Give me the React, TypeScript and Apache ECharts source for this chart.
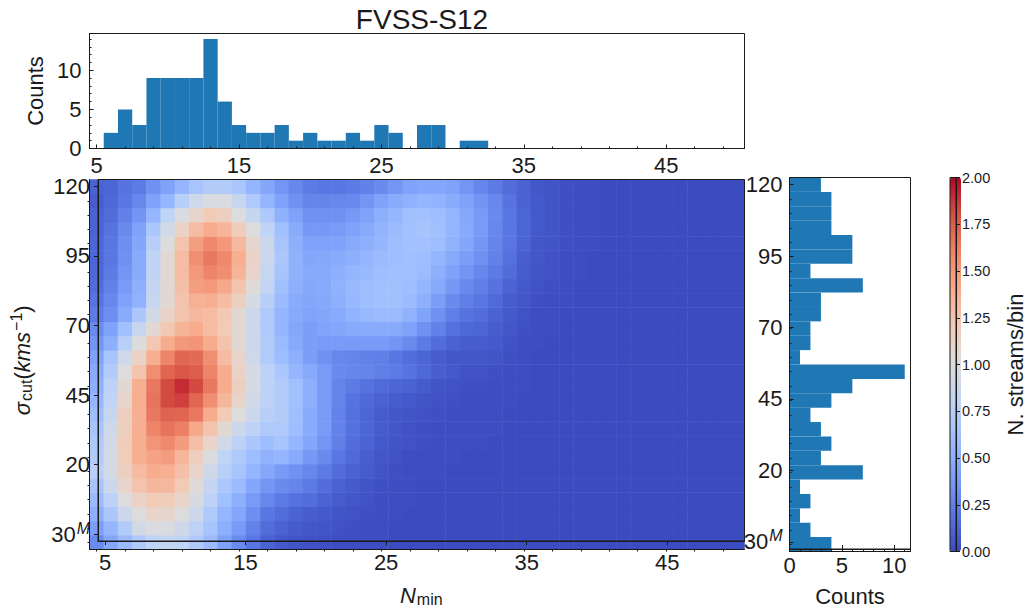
import { useEffect, useRef } from 'react';
import * as echarts from 'echarts';

const FONT = 'Liberation Sans';
const INK = '#1a1a1a';

// x categories: N_min from 5 to 50
const nMinValues = ['5','6','7','8','9','10','11','12','13','14','15','16','17','18','19','20','21','22','23','24','25','26','27','28','29','30','31','32','33','34','35','36','37','38','39','40','41','42','43','44','45','46','47','48','49','50'];
// y categories, bottom to top
const sigmaValues = ['30M','0','5','10','15','20','25','30','35','40','45','50','55','60','65','70','75','80','85','90','95','100','105','110','115','120'];

// top histogram, one count per N_min bin
const nMinCounts = [0,2,5,3,9,9,9,9,14,6,3,2,2,3,1,2,1,1,2,1,3,2,0,3,3,0,1,1,0,0,0,0,0,0,0,0,0,0,0,0,0,0,0,0,0,0];
// right histogram, one count per sigma bin, bottom to top
const sigmaCounts = [4,2,1,2,1,7,3,4,3,2,4,6,11,1,2,2,3,3,7,2,6,6,4,4,4,3];

// N. streams/bin, first row is the bottom one
const density = [
  [.30,.45,.58,.70,.80,.83,.80,.70,.58,.42,.30,.20,.10,.06, .04,.03,.02,.01,.01,.01,.01,0,0,0,0,0,0,0, 0,0,0,0,0,0, 0,0,0,0,0,0,0,0,0,0,0,0],
  [.40,.55,.72,.92,.97,.97,.90,.78,.65,.50,.38,.25,.15,.10, .07,.05,.04,.03,.02,.01,.01,0,0,0,0,0,0,0, 0,0,0,0,0,0, 0,0,0,0,0,0,0,0,0,0,0,0],
  [.50,.68,.88,1.0,1.10,1.08,1.0,.88,.70,.55,.45,.32,.20,.15, .10,.08,.06,.04,.03,.02,.01,.01,0,0,0,0,0,0, 0,0,0,0,0,0, 0,0,0,0,0,0,0,0,0,0,0,0],
  [.58,.78,1.0,1.12,1.20,1.18,1.10,.95,.78,.62,.50,.38,.28,.22, .17,.16,.11,.07,.05,.03,.01,.01,.01,0,0,0,0,0, 0,0,0,0,0,0, 0,0,0,0,0,0,0,0,0,0,0,0],
  [.65,.88,1.10,1.25,1.33,1.32,1.20,1.02,.82,.68,.58,.45,.35,.30, .27,.22,.16,.10,.07,.04,.02,.01,.01,0,0,0,0,0, 0,0,0,0,0,0, 0,0,0,0,0,0,0,0,0,0,0,0],
  [.75,.93,1.15,1.30,1.40,1.38,1.27,1.10,.90,.75,.65,.55,.45,.38, .33,.28,.22,.15,.10,.07,.04,.02,.01,.01,.01,0,0,0, 0,0,0,0,0,0, 0,0,0,0,0,0,0,0,0,0,0,0],
  [.72,.93,1.17,1.38,1.45,1.48,1.33,1.15,.98,.80,.70,.60,.52,.55, .47,.37,.30,.20,.14,.09,.05,.03,.01,.01,.01,.01,0,0, 0,0,0,0,0,0, 0,0,0,0,0,0,0,0,0,0,0,0],
  [.70,.92,1.18,1.38,1.52,1.58,1.48,1.28,1.10,.92,.78,.68,.60,.65, .55,.45,.35,.24,.16,.11,.06,.04,.03,.02,.01,.01,.01,.01, 0,0,0,0,0,0, 0,0,0,0,0,0,0,0,0,0,0,0],
  [.65,.90,1.15,1.38,1.60,1.67,1.62,1.42,1.25,1.05,.88,.78,.70,.70, .60,.48,.38,.26,.17,.12,.07,.05,.03,.02,.01,.01,.01,.01, .01,0,0,0,0,0, 0,0,0,0,0,0,0,0,0,0,0,0],
  [.60,.85,1.15,1.38,1.65,1.73,1.72,1.65,1.40,1.20,1.0,.88,.75,.72, .60,.48,.38,.26,.17,.12,.07,.05,.04,.03,.02,.01,.01,.01, .01,0,0,0,0,0, 0,0,0,0,0,0,0,0,0,0,0,0],
  [.55,.80,1.10,1.38,1.67,1.82,1.85,1.72,1.55,1.33,1.10,.92,.78,.72, .62,.50,.38,.27,.18,.14,.10,.08,.06,.04,.03,.02,.01,.01, .01,.01,0,0,0,0, 0,0,0,0,0,0,0,0,0,0,0,0],
  [.50,.78,1.05,1.38,1.65,1.82,1.90,1.82,1.65,1.40,1.15,.95,.78,.72, .62,.50,.38,.27,.22,.18,.14,.12,.10,.07,.04,.03,.02,.02, .01,.01,.01,0,0,0, 0,0,0,0,0,0,0,0,0,0,0,0],
  [.48,.72,1.0,1.25,1.55,1.72,1.78,1.75,1.60,1.40,1.12,.95,.78,.68, .55,.47,.38,.30,.28,.27,.24,.22,.18,.13,.09,.06,.03,.03, .02,.01,.01,0,0,0, 0,0,0,0,0,0,0,0,0,0,0,0],
  [.42,.65,.90,1.12,1.38,1.60,1.72,1.70,1.55,1.30,1.10,.90,.72,.60, .50,.40,.33,.28,.27,.25,.24,.20,.16,.12,.08,.05,.05,.05, .04,.02,.01,0,0,0, 0,0,0,0,0,0,0,0,0,0,0,0],
  [.35,.50,.75,1.0,1.22,1.40,1.50,1.52,1.40,1.25,1.05,.88,.72,.58, .47,.40,.38,.38,.38,.38,.38,.35,.30,.22,.15,.10,.08,.08, .06,.03,.01,.01,0,0, 0,0,0,0,0,0,0,0,0,0,0,0],
  [.30,.42,.62,.85,1.05,1.22,1.35,1.40,1.30,1.20,1.05,.88,.70,.55, .45,.40,.43,.45,.47,.48,.48,.47,.42,.33,.25,.17,.13,.12, .08,.05,.02,.01,.01,0, 0,0,0,0,0,0,0,0,0,0,0,0],
  [.22,.32,.48,.68,.92,1.12,1.25,1.32,1.30,1.22,1.05,.88,.70,.55, .47,.43,.45,.48,.53,.57,.58,.58,.52,.43,.33,.24,.18,.16, .10,.06,.03,.01,.01,0, 0,0,0,0,0,0,0,0,0,0,0,0],
  [.18,.28,.42,.52,.85,1.05,1.25,1.37,1.38,1.30,1.15,.95,.75,.58, .48,.45,.46,.50,.56,.60,.62,.62,.58,.50,.40,.30,.24,.20, .14,.08,.05,.02,.01,.01, 0,0,0,0,0,0,0,0,0,0,0,0],
  [.15,.25,.38,.50,.82,1.05,1.28,1.47,1.50,1.42,1.25,1.02,.82,.62, .50,.46,.47,.52,.57,.60,.62,.62,.60,.55,.47,.37,.29,.24, .18,.11,.06,.03,.02,.01, 0,0,0,0,0,0,0,0,0,0,0,0],
  [.13,.22,.35,.48,.80,1.05,1.30,1.50,1.60,1.55,1.35,1.10,.85,.65, .52,.47,.47,.50,.55,.57,.60,.62,.62,.58,.50,.42,.35,.28, .22,.15,.08,.04,.03,.01, .01,0,0,0,0,0,0,0,0,0,0,0],
  [.12,.20,.33,.48,.80,1.05,1.30,1.55,1.65,1.58,1.38,1.12,.88,.68, .52,.45,.46,.48,.50,.55,.58,.60,.62,.60,.55,.47,.40,.33, .25,.17,.09,.05,.03,.01, .01,0,0,0,0,0,0,0,0,0,0,0],
  [.12,.20,.32,.45,.75,1.0,1.25,1.47,1.58,1.50,1.32,1.08,.88,.65, .50,.42,.42,.42,.47,.50,.55,.60,.63,.63,.60,.52,.45,.36, .27,.19,.11,.05,.04,.02, .01,.01,0,0,0,0,0,0,0,0,0,0],
  [.10,.18,.30,.42,.68,.92,1.12,1.30,1.40,1.35,1.18,1.0,.80,.62, .48,.37,.37,.38,.42,.47,.53,.58,.63,.65,.62,.55,.47,.38, .28,.20,.12,.06,.04,.02, .01,.01,0,0,0,0,0,0,0,0,0,0],
  [.10,.15,.25,.35,.55,.80,.97,1.10,1.20,1.15,1.0,.85,.70,.52, .42,.33,.33,.33,.37,.42,.50,.55,.62,.63,.60,.55,.46,.38, .30,.20,.12,.06,.04,.02, .01,.01,0,0,0,0,0,0,0,0,0,0],
  [.08,.13,.20,.28,.42,.55,.75,.90,.97,.97,.85,.70,.55,.42, .33,.27,.27,.28,.29,.35,.42,.48,.52,.55,.53,.48,.42,.35, .28,.18,.10,.06,.04,.02, .01,.01,0,0,0,0,0,0,0,0,0,0],
  [.10,.12,.18,.22,.33,.42,.55,.65,.72,.72,.67,.55,.45,.35, .28,.22,.20,.20,.22,.25,.30,.35,.42,.45,.45,.42,.35,.28, .22,.15,.10,.05,.04,.02, .01,.01,0,0,0,0,0,0,0,0,0,0],
];

const coolwarm = ['#3b4cc0','#5977e3','#7b9ff9','#9ebeff','#c0d4f5','#dddcdc','#f2cbb7','#f7ac8e','#ee8468','#d65244','#b40426'];

const heatData = density.flatMap((row, y) => row.map((v, x) => [x, y, v]));

// plot rectangles in page pixels
const mainRect = { left: 89.5, top: 179.5, width: 655, height: 370 };
const topRect = { left: 89.5, top: 33.5, width: 655, height: 115 };
const sideRect = { left: 789.5, top: 177.5, width: 121, height: 374 };
const barRect = { left: 950, top: 177.5, width: 11, height: 374 };

const everyNth = (n: number) => (i: number) => i % n === 0;

const labelRich = {
  mark: { fontFamily: FONT, fontSize: 22, color: INK },
  sup: { fontFamily: FONT, fontSize: 16, fontStyle: 'italic', color: INK, padding: [0, 0, 12, 1] },
};
const sigmaLabel = (value: string) => (value === '30M' ? '{mark|30}{sup|M}' : value);

const line = { show: true, lineStyle: { color: INK, width: 1 } };
const tickStyle = { color: INK, width: 1 };
const noLabel = { show: false };

// category axis carrying only the short ticks
const minorCat = (data: string[], n: number, inside: boolean, gridIndex: number) => ({
  type: 'category', data, gridIndex, z: 5,
  axisLine: line,
  axisTick: { show: true, alignWithLabel: true, interval: everyNth(n), length: 2, inside, lineStyle: tickStyle },
  axisLabel: noLabel,
  splitLine: { show: false },
});

// category axis carrying the long ticks and the labels
const majorCat = (data: string[], n: number, inside: boolean, gridIndex: number, margin: number, extra: object = {}) => ({
  type: 'category', data, gridIndex, z: 5,
  axisLine: line,
  axisTick: { show: true, alignWithLabel: true, interval: everyNth(n), length: 4, inside, lineStyle: tickStyle },
  axisLabel: {
    interval: everyNth(n), margin, fontFamily: FONT, fontSize: 22, color: INK,
    formatter: sigmaLabel, rich: labelRich,
  },
  splitLine: { show: false },
  ...extra,
});

// count axis; the short one steps by 1, the long one by 5 and has the labels
const countAxis = (max: number, interval: number, gridIndex: number, length: number, labels: boolean, margin: number, extra: object = {}) => ({
  type: 'value', min: 0, max, interval, gridIndex, z: 5,
  axisLine: line,
  axisTick: { show: true, length, inside: true, lineStyle: tickStyle },
  axisLabel: labels
    ? { margin, showMaxLabel: false, fontFamily: FONT, fontSize: 22, color: INK }
    : noLabel,
  splitLine: { show: false },
  ...extra,
});

const nameStyle = { fontFamily: FONT, fontSize: 22, color: INK };
const mathRich = {
  i: { fontFamily: FONT, fontSize: 22, fontStyle: 'italic', color: INK },
  r: { fontFamily: FONT, fontSize: 22, color: INK },
  sub: { fontFamily: FONT, fontSize: 16, color: INK, padding: [8, 0, 0, 1] },
  sup: { fontFamily: FONT, fontSize: 16, color: INK, padding: [0, 0, 12, 1] },
};

const frame = (rect: object) => ({ ...rect, show: true, z: 10, backgroundColor: 'transparent', borderColor: INK, borderWidth: 1 });

const App = () => {
  const chartRef = useRef<HTMLDivElement>(null);

  useEffect(() => {
    if (!chartRef.current) return;
    const chart = echarts.init(chartRef.current, null, { renderer: 'svg' });

    chart.setOption({
      animation: false,
      backgroundColor: '#ffffff',
      title: {
        text: 'FVSS-S12', left: 417, top: 0, textAlign: 'center',
        textStyle: { fontFamily: FONT, fontSize: 28, fontWeight: 'normal', color: INK },
      },
      grid: [
        mainRect, frame(mainRect),
        topRect, frame(topRect),
        sideRect, frame(sideRect),
        frame(barRect),
      ],
      xAxis: [
        minorCat(nMinValues, 2, false, 0),
        majorCat(nMinValues, 10, false, 1, 10, {
          name: '{i|N}{sub|min}', nameLocation: 'middle', nameGap: 42,
          nameTextStyle: { ...nameStyle, rich: mathRich },
        }),
        minorCat(nMinValues, 2, true, 2),
        majorCat(nMinValues, 10, true, 3, 6),
        countAxis(11.55, 1, 4, 2, false, 0),
        countAxis(11.55, 5, 5, 4, true, 5, {
          name: 'Counts', nameLocation: 'middle', nameGap: 36, nameTextStyle: nameStyle,
        }),
        { type: 'category', data: ['bar'], gridIndex: 6, show: false },
      ],
      yAxis: [
        minorCat(sigmaValues, 1, false, 0),
        majorCat(sigmaValues, 5, false, 1, 8, {
          name: '{i|σ}{sub|cut}{r|(}{i|kms}{sup|−1}{r|)}', nameLocation: 'middle', nameGap: 62,
          nameTextStyle: { ...nameStyle, rich: mathRich },
        }),
        countAxis(14.7, 1, 2, 2, false, 0),
        countAxis(14.7, 5, 3, 4, true, 8, {
          name: 'Counts', nameLocation: 'middle', nameGap: 41, nameTextStyle: nameStyle,
        }),
        minorCat(sigmaValues, 1, true, 4),
        majorCat(sigmaValues, 5, true, 5, 7),
        {
          type: 'value', min: 0, max: 2, interval: 0.25, gridIndex: 6, position: 'right', z: 5,
          axisLine: line,
          axisTick: { show: true, length: 4, lineStyle: tickStyle },
          axisLabel: {
            margin: 6, fontFamily: FONT, fontSize: 14.5, color: INK,
            formatter: (v: number) => v.toFixed(2),
          },
          splitLine: { show: false },
          name: 'N. streams/bin', nameLocation: 'middle', nameRotate: 90, nameGap: 48,
          nameTextStyle: nameStyle,
        },
      ],
      visualMap: {
        type: 'continuous', seriesIndex: 0, min: 0, max: 2,
        left: barRect.left, top: barRect.top, itemWidth: barRect.width, itemHeight: barRect.height,
        padding: 0, text: null, calculable: false, showLabel: false, hoverLink: false,
        inRange: { color: coolwarm },
      },
      series: [
        { type: 'heatmap', xAxisIndex: 0, yAxisIndex: 0, data: heatData, progressive: 0, emphasis: { disabled: true } },
        { type: 'bar', xAxisIndex: 2, yAxisIndex: 2, data: nMinCounts, barWidth: '100%', itemStyle: { color: '#1f77b4' } },
        { type: 'bar', xAxisIndex: 4, yAxisIndex: 4, data: sigmaCounts, barWidth: '100%', itemStyle: { color: '#1f77b4' } },
      ],
    });

    return () => {
      if (!chart.isDisposed()) chart.dispose();
    };
  }, []);

  return (
    <div
      ref={chartRef}
      style={{ position: 'absolute', left: 0, top: 0, width: '1027px', height: '612px' }}
    />
  );
};

export default App;
